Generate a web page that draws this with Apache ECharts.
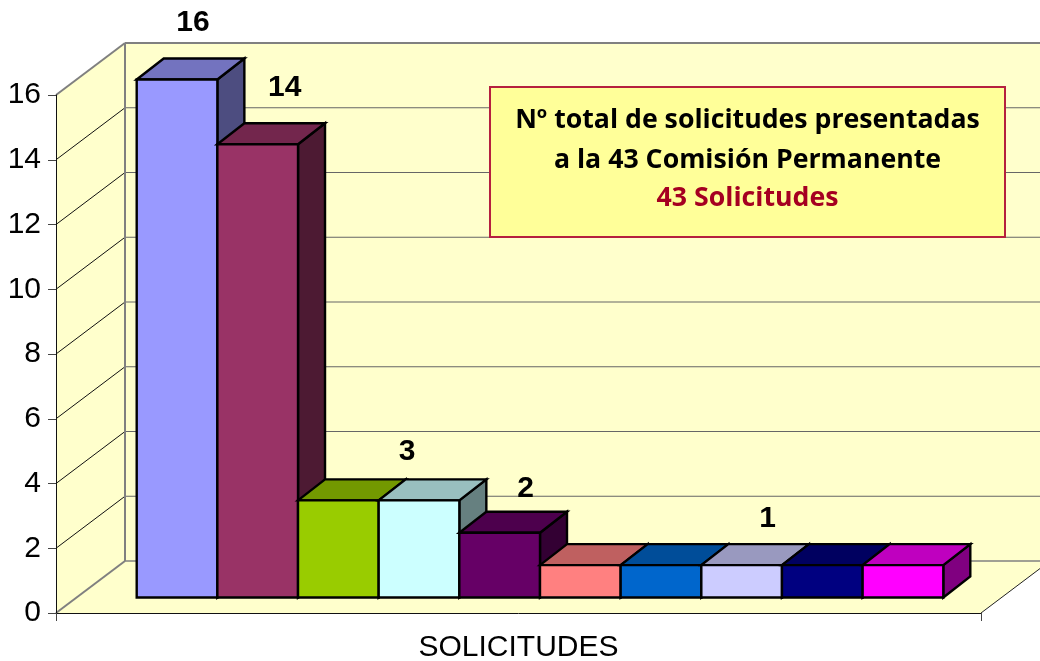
<!DOCTYPE html>
<html>
<head>
<meta charset="utf-8">
<style>
  html, body { margin: 0; padding: 0; background: #fff; }
  #main { width: 1040px; height: 661px; }
</style>
<script src="https://cdn.jsdelivr.net/npm/echarts@6/dist/echarts.min.js"></script>
</head>
<body>
<div id="main"></div>
<script>
var categories = ['SOLICITUDES'];
var barValues = [16, 14, 3, 3, 2, 1, 1, 1, 1, 1];
var yTicks = [0, 2, 4, 6, 8, 10, 12, 14, 16];
var boxLines = ['Nº total de solicitudes presentadas', 'a la 43 Comisión Permanente', '43 Solicitudes'];

var barColors = ['#9999FF', '#993366', '#99CC00', '#CCFFFF', '#660066', '#FF8080', '#0066CC', '#CCCCFF', '#000080', '#FF00FF'];

// which bars carry a label, and where it sits relative to the bar top centre
var labelShift = {
  0: [16, -57],
  1: [27, -57],
  3: [-12, -49],
  4: [26, -44],
  7: [26, -46]
};

var wallDx = 69, wallDy = 52;   // depth of the floor
var barDx = 21.5, barDy = 15.5; // where the bars start inside the floor
var sideDx = 27, sideDy = 21;   // depth of one bar
var gapShare = 0.064;           // gap on each side of the bar group, part of the band
var fontAxis = '"Liberation Sans", Arial, sans-serif';

// excel style shading for top and side faces
function shade(hex, k) {
  var n = parseInt(hex.slice(1), 16);
  var r = Math.round((n >> 16 & 255) * k);
  var g = Math.round((n >> 8 & 255) * k);
  var b = Math.round((n & 255) * k);
  return 'rgb(' + r + ',' + g + ',' + b + ')';
}

function poly(points, fill, stroke, width) {
  return {
    type: 'polygon',
    shape: { points: points },
    style: { fill: fill, stroke: stroke || null, lineWidth: width || 0 }
  };
}

function line(x1, y1, x2, y2, color, width) {
  return {
    type: 'line',
    shape: { x1: x1, y1: y1, x2: x2, y2: y2 },
    style: { stroke: color, lineWidth: width }
  };
}

// side wall, back wall, floor and the gridlines
function renderWalls(params, api) {
  var cs = params.coordSys;
  var x0 = cs.x, x1 = cs.x + cs.width;
  var y0 = api.coord([0, 0])[1], yTop = api.coord([0, 16])[1];
  var bx0 = x0 + wallDx, bx1 = x1 + wallDx;
  var fill = '#FFFFCC', edge = '#808080';
  var kids = [
    poly([[bx0, yTop - wallDy], [bx1, yTop - wallDy], [bx1, y0 - wallDy], [bx0, y0 - wallDy]], fill),
    poly([[x0, yTop], [bx0, yTop - wallDy], [bx0, y0 - wallDy], [x0, y0]], fill),
    poly([[x0, y0], [bx0, y0 - wallDy], [bx1, y0 - wallDy], [x1, y0]], fill)
  ];
  yTicks.forEach(function (t) {
    var y = api.coord([0, t])[1];
    if (t > 0 && t < 16) {
      kids.push(line(x0, y, bx0, y - wallDy, '#111', 1));
      kids.push(line(bx0, y - wallDy, bx1, y - wallDy, '#666', 1.2));
    }
  });
  kids.push(line(bx0, y0 - wallDy, bx1, y0 - wallDy, edge, 1.5));
  kids.push(line(bx0, yTop - wallDy, bx0, y0 - wallDy, edge, 2));
  kids.push(line(x0, yTop, bx0, yTop - wallDy, edge, 2));
  kids.push(line(bx0, yTop - wallDy, bx1, yTop - wallDy, edge, 2));
  kids.push(line(x0, y0, bx0, y0 - wallDy, edge, 2));
  kids.push(line(x1, y0, bx1, y0 - wallDy, '#222', 1));
  return { type: 'group', children: kids };
}

// one box per value: front, top and side faces
function renderBar(params, api) {
  var i = params.dataIndex;
  var v = api.value(1);
  var base = api.coord([0, 0]);
  var top = api.coord([0, v]);
  var band = api.size([1, 0])[0];
  var w = band * (1 - gapShare * 2) / barValues.length;
  var xa = base[0] - band / 2 + band * gapShare + i * w + barDx;
  var xb = xa + w;
  var yb = base[1] - barDy;
  var yt = top[1] - barDy;
  var color = barColors[i];
  var kids = [
    poly([[xb, yb], [xb + sideDx, yb - sideDy], [xb + sideDx, yt - sideDy], [xb, yt]], shade(color, 0.5), '#000', 2.4),
    poly([[xa, yt], [xa + sideDx, yt - sideDy], [xb + sideDx, yt - sideDy], [xb, yt]], shade(color, 0.75), '#000', 2.4),
    poly([[xa, yb], [xa, yt], [xb, yt], [xb, yb]], color, '#000', 2.4)
  ];
  if (labelShift[i]) {
    kids.push({
      type: 'text',
      z2: 50,
      style: {
        x: (xa + xb) / 2 + labelShift[i][0],
        y: yt + labelShift[i][1],
        text: String(v),
        align: 'center',
        verticalAlign: 'middle',
        fill: '#000',
        font: 'bold 30px ' + fontAxis
      }
    });
  }
  return { type: 'group', children: kids };
}

var myChart = echarts.init(document.getElementById('main'), null, { renderer: 'canvas' });

var boxFont = '"Open Sans", "Noto Sans", sans-serif';
var boxText = boxLines.map(function (t, i) {
  return {
    type: 'text',
    x: 747.5,
    y: [120, 160, 198][i],
    z: 20,
    style: {
      text: t,
      align: 'center',
      verticalAlign: 'middle',
      fill: i === 2 ? '#A50021' : '#000',
      font: 'bold 26.7px ' + boxFont
    }
  };
});

var option = {
  animation: false,
  backgroundColor: '#fff',
  grid: { left: 56, right: 59, top: 95, bottom: 48, outerBoundsMode: 'none' },
  xAxis: {
    type: 'category',
    data: categories,
    z: 5,
    axisLine: { lineStyle: { color: '#111', width: 1 } },
    axisTick: { show: true, length: 8, lineStyle: { color: '#444' } },
    axisLabel: { color: '#000', fontFamily: fontAxis, fontSize: 30, margin: 20 }
  },
  yAxis: {
    type: 'value',
    min: 0,
    max: 16,
    interval: 2,
    z: 5,
    splitLine: { show: false },
    axisLine: { show: true, lineStyle: { color: '#111', width: 1 } },
    axisTick: { show: true, length: 8, lineStyle: { color: '#444' } },
    axisLabel: { color: '#000', fontFamily: fontAxis, fontSize: 30, margin: 15 }
  },
  series: [
    {
      type: 'custom',
      z: 1,
      renderItem: renderWalls,
      data: [[0, 0]],
      silent: true
    },
    {
      type: 'custom',
      z: 3,
      renderItem: renderBar,
      encode: { x: 0, y: 1 },
      data: barValues.map(function (v) { return [0, v]; })
    }
  ],
  graphic: [{
    type: 'rect',
    z: 19,
    shape: { x: 490, y: 87, width: 515, height: 150 },
    style: { fill: '#FFFF99', stroke: '#B5203F', lineWidth: 2 }
  }].concat(boxText)
};

myChart.setOption(option);
</script>
</body>
</html>
